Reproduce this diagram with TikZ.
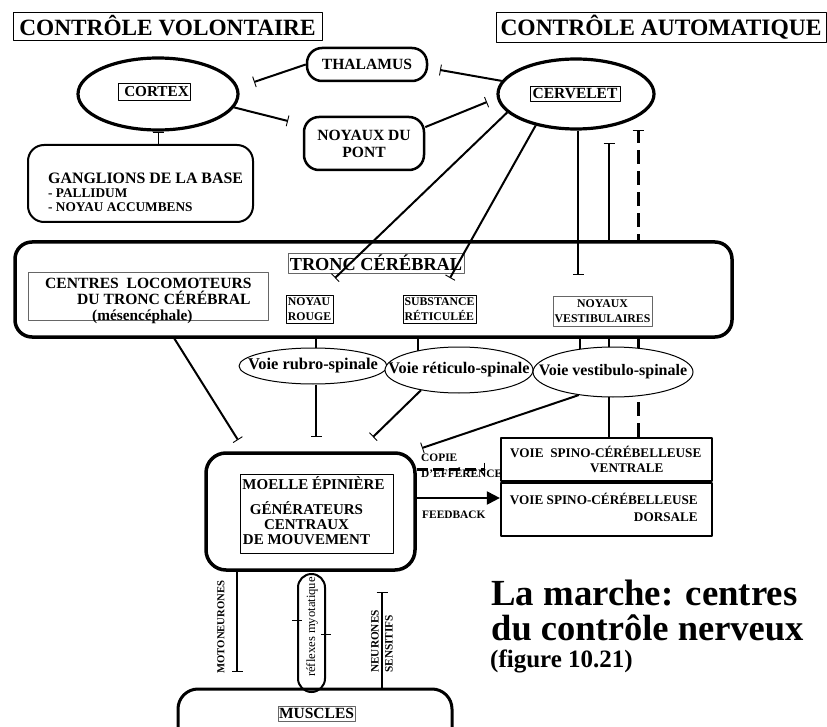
\documentclass[tikz,border=0pt]{standalone}
\usepackage{fontspec}
\setmainfont{Liberation Serif}
\usetikzlibrary{shapes.geometric,arrows.meta,backgrounds}
\newcommand\fsz[2]{\fontsize{#1}{#2}\selectfont}
\begin{document}
\begin{tikzpicture}[x=1pt,y=-1pt,line join=round,
  lbl/.style={draw,line width=0.8pt,inner sep=0pt},
  glbl/.style={draw=black!60,line width=0.9pt,inner sep=0pt},
  oval/.style={ellipse,draw,line width=3.2pt,inner sep=0pt,fill=white},
  rbox/.style={draw,line width=2.5pt,rounded corners=15pt,inner sep=0pt},
  bigbox/.style={draw,line width=3.5pt,rounded corners=17pt,inner sep=0pt,fill=white},
  voie/.style={ellipse,draw,line width=1pt,inner sep=0pt,fill=white},
  conn/.style={line width=2pt},
  tee/.style={-{Bar[width=11pt,line width=0.9pt]}},
  dashconn/.style={line width=3pt,dash pattern=on 14pt off 7pt},
  bf/.style={font=\bfseries\fsz{#1}{#1}},
]
\useasboundingbox (0,0) rectangle (827,727);

% titles
\node[lbl,minimum width=309pt,minimum height=28pt,bf=23.3] (volont) at (167.5,26) {CONTRÔLE VOLONTAIRE};
\node[lbl,minimum width=330pt,minimum height=30pt,bf=23.5] (autom) at (661,27) {CONTRÔLE AUTOMATIQUE};

% top structures
\node[oval,minimum width=160pt,minimum height=72pt] (cortex) at (158,94) {};
\node[lbl,minimum width=72pt,minimum height=17pt,bf=15.2] (cortexl) at (154,91.5) {\hspace{5pt}CORTEX};
\node[oval,minimum width=156pt,minimum height=70pt] (cerv) at (576,94) {};
\node[lbl,minimum width=90pt,minimum height=15pt,bf=15.5] (cervl) at (575,93.5) {CERVELET};
\node[rbox,minimum width=120pt,minimum height=33pt,bf=15.6] (thal) at (367,64.5) {THALAMUS};
\node[rbox,minimum width=120pt,minimum height=53pt,align=center,font=\bfseries\fsz{15.6}{17}] (pont) at (364,143.5) {NOYAUX DU\\PONT};

\node[rbox,line width=2pt,rounded corners=16pt,minimum width=225pt,minimum height=77pt] (gangl) at (140.5,183.5) {};
\node[anchor=base west,inner sep=0pt,bf=15.9] (g1) at (48,184) {GANGLIONS DE LA BASE};
\node[anchor=base west,inner sep=0pt,bf=13.3] (g2) at (48,197.5) {- PALLIDUM};
\node[anchor=base west,inner sep=0pt,bf=13.3] (g3) at (48,212) {- NOYAU ACCUMBENS};

% tronc cerebral
\node[bigbox,minimum width=717pt,minimum height=95pt] (tronc) at (373.5,289.5) {};
\node[glbl,minimum width=176pt,minimum height=20pt,bf=18.3] (troncl) at (376,263) {TRONC CÉRÉBRAL};
\node[glbl,minimum width=240pt,minimum height=48pt] (centres) at (148,296) {};
\node[anchor=base west,inner sep=0pt,bf=15.6] (c1) at (45,289) {CENTRES\ \ LOCOMOTEURS};
\node[anchor=base west,inner sep=0pt,bf=15.6] (c2) at (77,304.5) {DU TRONC CÉRÉBRAL};
\node[anchor=base west,inner sep=0pt,bf=15.3] (c3) at (92,320) {(mésencéphale)};
\node[lbl,minimum width=47pt,minimum height=28pt,align=left,font=\bfseries\fsz{11.8}{15}] (rouge) at (309.5,309) {NOYAU\\ROUGE};
\node[lbl,minimum width=73pt,minimum height=28pt,align=left,font=\bfseries\fsz{11.8}{15}] (retf) at (439.5,309) {SUBSTANCE\\RÉTICULÉE};
\node[glbl,minimum width=99pt,minimum height=30pt,align=center,font=\bfseries\fsz{11.8}{15}] (vestn) at (602.5,311) {NOYAUX\\VESTIBULAIRES};

% voies
\node[voie,minimum width=148pt,minimum height=36pt] (rubro) at (313,366) {};
\node[bf=16.4] (rubrot) at (313,366) {Voie rubro-spinale};
\node[voie,minimum width=148pt,minimum height=46pt] (retic) at (459,370) {};
\node[bf=16.2] (retict) at (459,370) {Voie réticulo-spinale};
\node[voie,minimum width=160pt,minimum height=50pt] (vest) at (613,372) {};
\node[bf=16] (vestt) at (613,372) {Voie vestibulo-spinale};

% moelle
\node[bigbox,rounded corners=20pt,minimum width=209pt,minimum height=117pt] (moelle) at (310.5,511.5) {};
\node[lbl,minimum width=153pt,minimum height=79pt] (moellein) at (316.5,513.5) {};
\node[bf=15] (moellet) at (313.5,483) {MOELLE ÉPINIÈRE};
\node[align=center,inner sep=0pt,font=\bfseries\fsz{15}{15}] (cpg) at (306.5,523) {GÉNÉRATEURS\\CENTRAUX\\DE MOUVEMENT};

% spino-cerebellar
\node[draw,line width=2.2pt,minimum width=211pt,minimum height=43pt,inner sep=0pt] (ventr) at (606.5,459.5) {};
\node[draw,line width=2.2pt,minimum width=211pt,minimum height=53pt,inner sep=0pt] (dors) at (606.5,509.5) {};
\node[anchor=west,inner sep=0pt,align=left,font=\bfseries\fsz{13.2}{15}] (ventrt) at (510,459.5) {VOIE\ \ SPINO-CÉRÉBELLEUSE\\\hspace{80pt}VENTRALE};
\node[anchor=east,inner sep=0pt,align=right,font=\bfseries\fsz{13.2}{17}] (dorst) at (698,507.5) {VOIE SPINO-CÉRÉBELLEUSE\\DORSALE};
\node[anchor=west,inner sep=0pt,align=left,font=\bfseries\fsz{11.4}{16}] (copie) at (421,466) {COPIE\\D'EFFÉRENCE};
\node[anchor=base west,inner sep=0pt,bf=11.4] (feedb) at (422,518) {FEEDBACK};

% lower part
\node[rbox,line width=2pt,rounded corners=13.5pt,minimum width=27pt,minimum height=118pt,fill=white] (refl) at (311.5,633) {};
\node[rotate=90,font=\fsz{12.6}{14}] (reflt) at (312,627) {réflexes myotatique};
\node[rotate=90,bf=10.7] (motot) at (221,627) {MOTONEURONES};
\node[rotate=90,anchor=west,inner sep=0pt,align=left,font=\bfseries\fsz{11.3}{14}] (neurt) at (382,673) {NEURONES\\SENSITIFS};
\begin{scope}
\clip (0,0) rectangle (827,727);
\node[draw,line width=3pt,rounded corners=20pt,minimum width=274pt,minimum height=81pt,inner sep=0pt] (muscles) at (315,729.5) {};
\end{scope}
\node[glbl,minimum width=77pt,minimum height=15pt,bf=15.5] (musclesl) at (316.5,713.5) {MUSCLES};

% caption
\node[anchor=base west,inner sep=0pt,bf=36.8] (tit1) at (491,605) {La marche: centres};
\node[anchor=base west,inner sep=0pt,bf=36.5] (tit2) at (491,640) {du contrôle nerveux};
\node[anchor=base west,inner sep=0pt,bf=25] (tit3) at (490,667) {(figure 10.21)};

% free ends
\coordinate (eThal) at (254,82);
\coordinate (ePont) at (288,121);
\coordinate (eCervPont) at (487,102);
\coordinate (eCervThal) at (440,70);
\coordinate (eT1) at (335,278);
\coordinate (eT2) at (450,278);
\coordinate (eT3) at (578,275);
\coordinate (eSC1) at (609,143);
\coordinate (eSC2) at (638,130);
\coordinate (eM1) at (238,440);
\coordinate (eM2) at (316,437);
\coordinate (eM3) at (373,437);
\coordinate (eM4) at (422,448);
\coordinate (eCop) at (485,469);
\coordinate (eMot) at (237,672);
\coordinate (eSens) at (382,592);

% connectors (front)
\draw[conn,tee] (thal.west) -- (eThal);
\draw[conn,tee] (cortex.350) -- (ePont);
\draw[conn,tee] (pont.15) -- (eCervPont);
\draw[conn,tee] (cerv.170) -- (eCervThal);
\draw[line width=1pt,tee] (gangl.north -| cortex.south) -- (cortex.south);
\draw[conn,tee] (cerv.195) -- (eT1);
\draw[conn,tee] (cerv.218) -- (eT2);
\draw[conn,tee] (cerv.south -| eT3) -- (eT3);
\draw[conn,tee] (rubro.south -| eM2) -- (eM2);
\draw[conn,tee] (retic.208) -- (eM3);
\draw[conn,tee] (vest.214) -- (eM4);
\draw[dashconn,dash pattern=on 11pt off 5pt,-{Bar[width=13pt,line width=0.9pt]}] (moelle.east |- eCop) -- (eCop);
\draw[line width=2pt,-{Triangle[length=13pt,width=13pt]}] (moelle.east |- 0,498) -- (dors.west |- 0,498);
\draw[conn,tee] (moelle.south -| eMot) -- (eMot);
\draw[conn,tee] (muscles.north -| eSens) -- (eSens);
\draw[line width=0.8pt] ([xshift=-5pt]refl.west |- 0,620) -- ([xshift=5pt]refl.west |- 0,620);
\draw[line width=0.8pt] ([xshift=-5pt]refl.east |- 0,634) -- ([xshift=5pt]refl.east |- 0,634);

% connectors hidden behind boxes
\begin{pgfonlayer}{background}
\draw[conn,tee] (ventr.north -| eSC1) -- (eSC1);
\draw[dashconn,-{Bar[width=11pt,line width=0.9pt]}] (ventr.north -| eSC2) -- (eSC2);
\draw[conn] (tronc.south -| 316,0) -- (rubro.center -| 316,0);
\draw[conn] (tronc.south -| 418,0) -- (retic.center -| 418,0);
\draw[conn] (tronc.south -| 580,0) -- (vest.center -| 580,0);
\draw[conn,tee] (centres.south -| 163,0) -- (eM1);
\end{pgfonlayer}
\end{tikzpicture}
\end{document}
